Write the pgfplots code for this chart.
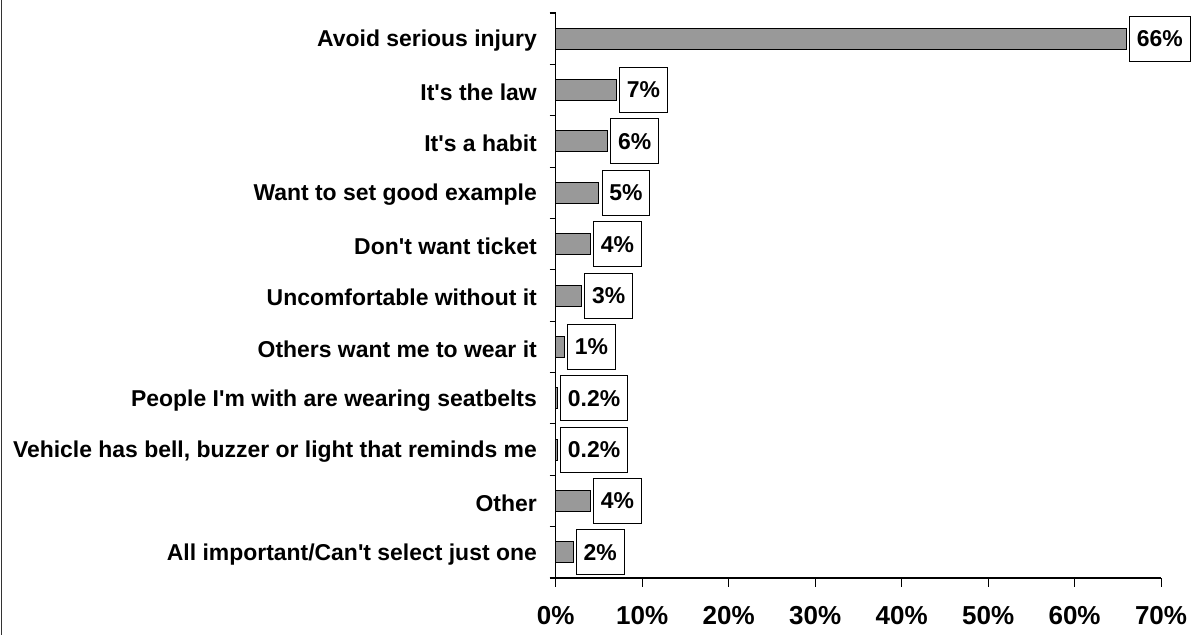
\documentclass[border=0pt]{standalone}
\usepackage{pgfplots}
\pgfplotsset{compat=1.18}
\usepackage{fontspec}
\setmainfont{Liberation Sans}

\newcommand{\q}{\textquotesingle}

\begin{document}
\begin{tikzpicture}
  \path[use as bounding box] (0,0) rectangle (897pt,-476.25pt);
  \draw[line width=1.1pt, black!80] (1.3pt,0) -- (1.3pt,-476.25pt);
  \begin{axis}[
    at={(416.8pt,-433.5pt)}, anchor=south west,
    scale only axis, width=454pt, height=423.75pt,
    xbar, bar width=15.75pt,
    xmin=0, xmax=70, ymin=-0.5, ymax=10.5,
    axis lines=left,
    axis line style={-, line width=0.8pt},
    clip=false,
    tick align=outside,
    major tick length=6.5pt,
    minor tick length=4.5pt,
    every tick/.style={black, line width=0.8pt},
    major y tick style={draw=none},
    xtick={0,10,...,70},
    xticklabel={\pgfmathprintnumber[assume math mode=true]{\tick}\%},
    xticklabel style={font=\fontsize{19.5}{22}\selectfont\bfseries, inner sep=0pt, anchor=north, yshift=-14.5pt},
    ytick={0,...,10},
    minor ytick={-0.5,0.5,...,10.5},
    yticklabels={All important/Can\q t select just one, Other,
      {Vehicle has bell, buzzer or light that reminds me},
      People I\q m with are wearing seatbelts, Others want me to wear it,
      Uncomfortable without it, Don\q t want ticket, Want to set good example,
      It\q s a habit, It\q s the law, Avoid serious injury},
    yticklabel style={font=\fontsize{17.2}{20}\selectfont\bfseries, inner sep=0pt, anchor=east, xshift=-7.5pt, yshift=-1.5pt},
    point meta=x,
    nodes near coords={\pgfmathprintnumber[assume math mode=true]{\pgfplotspointmeta}\%},
    every node near coord/.append style={draw=black, line width=0.75pt, fill=white,
      font=\fontsize{17.2}{20}\selectfont\bfseries, inner xsep=5.5pt,
      minimum height=33.75pt, anchor=west, xshift=2pt},
  ]
    \addplot[fill=black!40, draw=black, line width=0.75pt]
      coordinates {(2,0) (4,1) (0.2,2) (0.2,3) (1,4) (3,5) (4,6) (5,7) (6,8) (7,9) (66,10)};
  \end{axis}
\end{tikzpicture}
\end{document}
